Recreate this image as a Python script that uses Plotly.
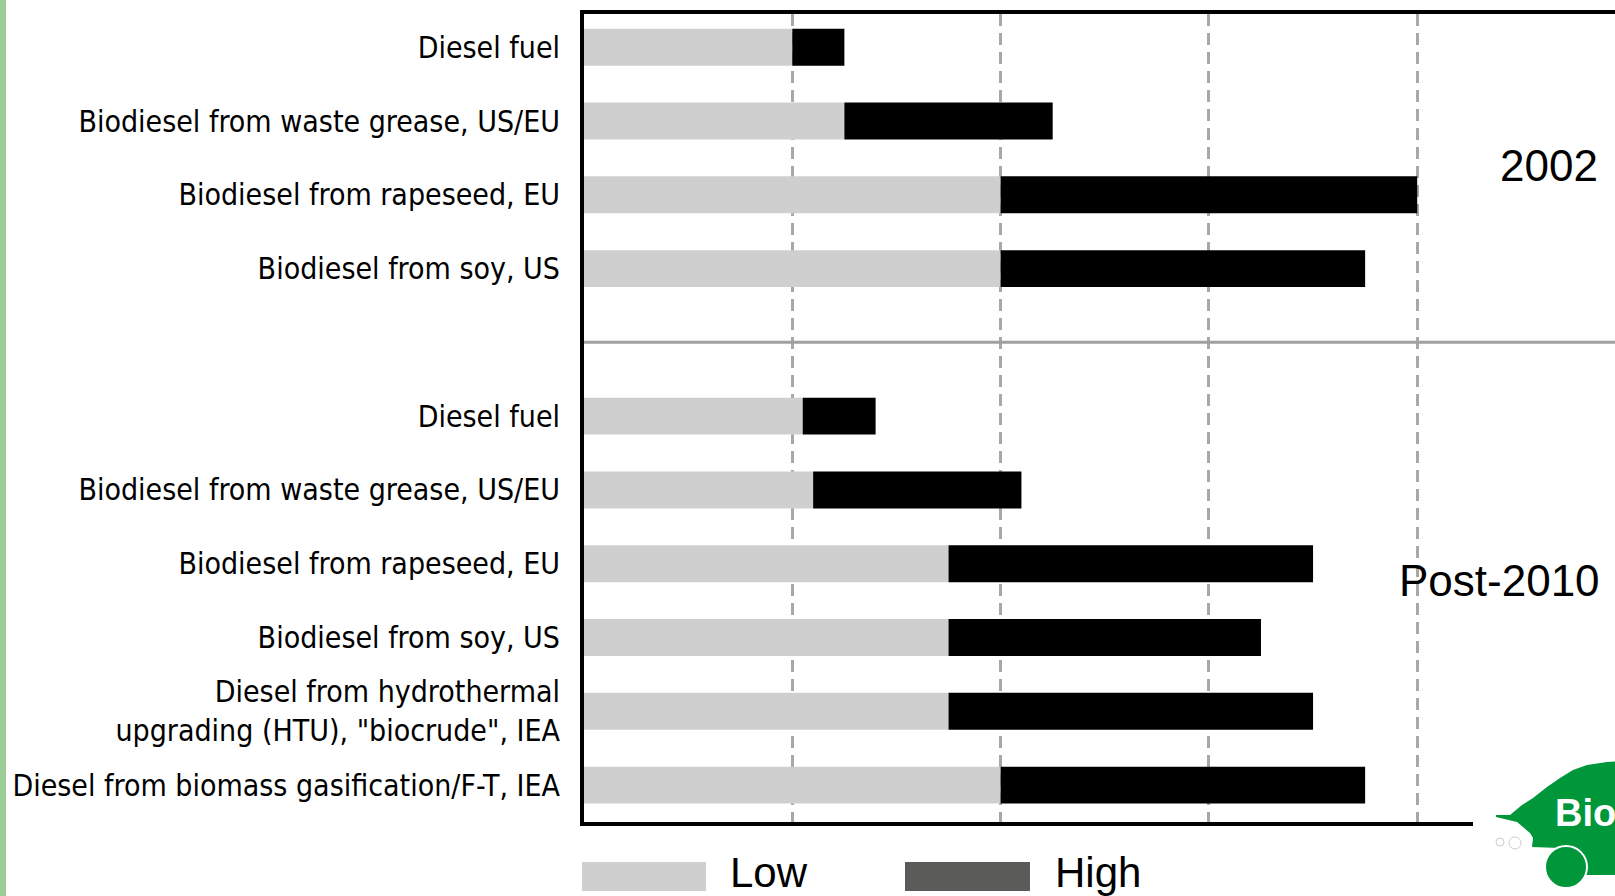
import plotly.graph_objects as go

# ---------------- data ----------------
labels = [
    "Diesel fuel",
    "Biodiesel from waste grease, US/EU",
    "Biodiesel from rapeseed, EU",
    "Biodiesel from soy, US",
    "",
    "Diesel fuel",
    "Biodiesel from waste grease, US/EU",
    "Biodiesel from rapeseed, EU",
    "Biodiesel from soy, US",
    "Diesel from hydrothermal<br>upgrading (HTU), \"biocrude\", IEA",
    "Diesel from biomass gasification/F-T, IEA",
]
low_vals = [0.20, 0.25, 0.40, 0.40, None, 0.21, 0.22, 0.35, 0.35, 0.35, 0.40]
high_vals = [0.25, 0.45, 0.80, 0.75, None, 0.28, 0.42, 0.70, 0.65, 0.70, 0.75]
group_labels = ["2002", "Post-2010"]
legend_names = ["Low", "High"]
grid_vals = [0.2, 0.4, 0.6, 0.8]

# ---------------- layout geometry ----------------
W, H = 1615, 896
L, R, T, B = 584, 0, 14, 74
PW, PH = W - L - R, H - T - B


def px(x):
    return (x - L) / PW


def py(y):
    return (H - B - y) / PH


pos = list(range(len(labels)))
bar_pos = [p for p, v in zip(pos, low_vals) if v is not None]
lows = [v for v in low_vals if v is not None]
highs = [h for h in high_vals if h is not None]
spans = [h - l for h, l in zip(highs, lows)]

LOW_C = "#cfcfcf"
HIGH_C = "#000000"
FONT = "DejaVu Sans Condensed, Liberation Sans Narrow, Arial Narrow, sans-serif"
FONT2 = "Liberation Sans, Arial, sans-serif"

fig = go.Figure()
fig.add_trace(go.Bar(
    y=bar_pos, x=lows, orientation="h", name=legend_names[0],
    marker=dict(color=LOW_C, line=dict(width=0)), width=0.5, hoverinfo="skip",
))
fig.add_trace(go.Bar(
    y=bar_pos, x=spans, base=lows, orientation="h", name=legend_names[1],
    marker=dict(color=HIGH_C, line=dict(width=0)), width=0.5, hoverinfo="skip",
))

fig.update_layout(
    width=W, height=H,
    margin=dict(l=L, r=R, t=T, b=B, pad=0, autoexpand=False),
    paper_bgcolor="white", plot_bgcolor="white",
    barmode="overlay", showlegend=False,
    font=dict(family=FONT, color="black"),
    xaxis=dict(
        range=[0, PW / 1041.5], tickvals=grid_vals, showticklabels=False,
        showgrid=True, gridcolor="#a8a8a8", gridwidth=3, griddash="12px,7px",
        zeroline=False, showline=True, linecolor="black", linewidth=4,
        mirror=True, ticks="", automargin=False,
    ),
    yaxis=dict(
        range=[10.5, -0.45], tickvals=pos, ticktext=labels,
        showgrid=False, zeroline=False, showline=True, linecolor="black",
        linewidth=4, ticks="", ticklabelstandoff=14, automargin=False,
        tickfont=dict(size=30, family=FONT, color="black"),
    ),
)

shapes = []
# separator between the two periods
shapes.append(dict(type="line", xref="paper", yref="y", x0=0, x1=1, y0=4, y1=4,
                   line=dict(color="#a0a0a0", width=3), layer="above"))
# left green stripe
shapes.append(dict(type="rect", xref="paper", yref="paper", x0=px(0), x1=px(6),
                   y0=py(H), y1=py(0), fillcolor="#9ccd98", line=dict(width=0)))
# legend swatches
shapes.append(dict(type="rect", xref="paper", yref="paper", x0=px(582), x1=px(706),
                   y0=py(891), y1=py(862), fillcolor=LOW_C, line=dict(width=0)))
shapes.append(dict(type="rect", xref="paper", yref="paper", x0=px(905), x1=px(1030),
                   y0=py(891), y1=py(862), fillcolor="#5b5b5a", line=dict(width=0)))
# logo: white box covering axis end
shapes.append(dict(type="rect", xref="paper", yref="paper", x0=px(1473), x1=px(W + 5),
                   y0=py(H + 5), y1=py(740), fillcolor="white", line=dict(width=0),
                   layer="above"))
# logo green blob
blob_pts = [(1496, 815), (1510, 815), (1522, 805), (1533, 798), (1547, 787),
            (1560, 778), (1573, 770), (1587, 765), (1607, 762), (1620, 761),
            (1620, 875), (1580, 875), (1560, 848), (1532, 847), (1533, 838),
            (1530, 833), (1517, 822), (1496, 817)]
path = "M " + " L ".join(f"{px(x):.5f},{py(y):.5f}" for x, y in blob_pts) + " Z"
shapes.append(dict(type="path", xref="paper", yref="paper", path=path,
                   fillcolor="#00963a", line=dict(width=0), layer="above"))
# wheel
shapes.append(dict(type="circle", xref="paper", yref="paper",
                   x0=px(1545), x1=px(1587), y0=py(888), y1=py(846),
                   fillcolor="#00963a", line=dict(color="white", width=2), layer="above"))
# puffs
for cx, cy, r in [(1500, 842, 4), (1515, 843, 6)]:
    shapes.append(dict(type="circle", xref="paper", yref="paper",
                       x0=px(cx - r), x1=px(cx + r), y0=py(cy + r), y1=py(cy - r),
                       fillcolor="white", line=dict(color="#cccccc", width=1), layer="above"))
fig.update_layout(shapes=shapes)

ann = []
ann.append(dict(text=group_labels[0], xref="paper", yref="paper", x=px(1600), y=py(166),
                xanchor="right", yanchor="middle", showarrow=False,
                font=dict(size=44, family=FONT2, color="black")))
ann.append(dict(text=group_labels[1], xref="paper", yref="paper", x=px(1602), y=py(580),
                xanchor="right", yanchor="middle", showarrow=False,
                font=dict(size=44, family=FONT2, color="black")))
ann.append(dict(text=legend_names[0], xref="paper", yref="paper", x=px(728), y=py(872),
                xanchor="left", yanchor="middle", showarrow=False,
                font=dict(size=42, family=FONT2, color="black")))
ann.append(dict(text=legend_names[1], xref="paper", yref="paper", x=px(1053), y=py(872),
                xanchor="left", yanchor="middle", showarrow=False,
                font=dict(size=42, family=FONT2, color="black")))
ann.append(dict(text="<b>Bio</b>", xref="paper", yref="paper", x=px(1553), y=py(813),
                xanchor="left", yanchor="middle", showarrow=False,
                font=dict(size=38, family=FONT2, color="white")))
fig.update_layout(annotations=ann)

fig.write_html("out.html", config={"displayModeBar": False, "staticPlot": True},
               post_script="document.body.style.margin='0px';document.body.style.overflow='hidden';")
